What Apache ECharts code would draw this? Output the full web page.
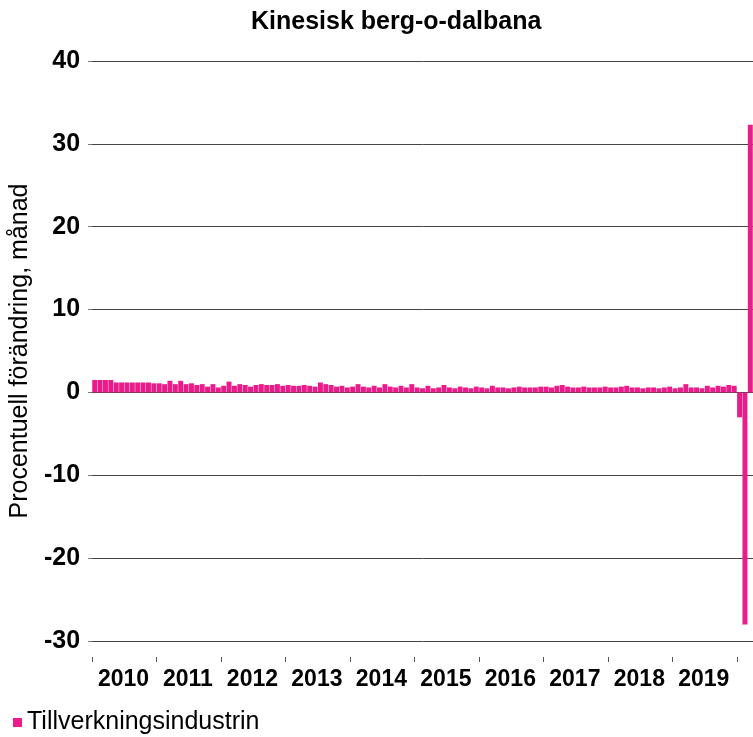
<!DOCTYPE html>
<html>
<head>
<meta charset="utf-8">
<script src="https://cdn.jsdelivr.net/npm/echarts@6/dist/echarts.min.js"></script>
<style>
  html, body { margin: 0; padding: 0; background: #fff; }
  #chart { width: 753px; height: 737px; }
</style>
</head>
<body>
<div id="chart"></div>
<script>
  // monthly percent change, jan 2010 .. mar 2020
  const years = ['2010','2011','2012','2013','2014','2015','2016','2017','2018','2019','2020'];
  const v2010 = [1.5,1.5,1.5,1.5,1.2,1.2,1.2,1.2,1.2,1.2,1.2,1.1];
  const v2011 = [1.1,1.0,1.4,1.0,1.4,1.0,1.1,0.9,1.0,0.7,1.0,0.6];
  const v2012 = [0.8,1.3,0.8,1.0,0.9,0.7,0.9,1.0,0.9,0.9,1.0,0.8];
  const v2013 = [0.9,0.8,0.8,0.9,0.8,0.7,1.2,1.0,0.9,0.7,0.8,0.6];
  const v2014 = [0.7,1.0,0.7,0.6,0.8,0.6,1.0,0.7,0.6,0.8,0.6,1.0];
  const v2015 = [0.6,0.5,0.8,0.5,0.6,0.9,0.6,0.5,0.7,0.6,0.5,0.7];
  const v2016 = [0.6,0.5,0.8,0.6,0.6,0.5,0.6,0.7,0.6,0.6,0.6,0.7];
  const v2017 = [0.7,0.6,0.8,0.9,0.7,0.6,0.6,0.7,0.6,0.6,0.6,0.7];
  const v2018 = [0.6,0.6,0.7,0.8,0.6,0.6,0.5,0.6,0.6,0.5,0.6,0.7];
  const v2019 = [0.5,0.6,1.0,0.6,0.6,0.5,0.8,0.6,0.8,0.7,0.9,0.8];
  const v2020 = [-3.0,-28.0,32.3];
  const yTicks = [-30,-20,-10,0,10,20,30,40];

  const values = [].concat(v2010,v2011,v2012,v2013,v2014,v2015,v2016,v2017,v2018,v2019,v2020);
  let months = [];
  years.forEach(y => {
    for (let m = 1; m <= 12; m++) months.push(y + '-' + (m < 10 ? '0' + m : m));
  });
  months = months.slice(0, values.length);

  const font = 'Arial, "Liberation Sans", Helvetica, sans-serif';
  let chart = echarts.init(document.getElementById('chart'));
  chart.setOption({
    animation: false,
    textStyle: {fontFamily: font},
    title: {
      text: 'Kinesisk berg-o-dalbana',
      left: 246,
      top: 5,
      textStyle: {fontSize: 25, fontWeight: 'bold', color: '#000', fontFamily: font}
    },
    legend: {
      left: 8,
      top: 705,
      icon: 'rect',
      itemWidth: 9,
      itemHeight: 9,
      itemGap: 5,
      textStyle: {fontSize: 25, color: '#000', fontFamily: font},
      data: ['Tillverkningsindustrin']
    },
    grid: {left: 90, right: -2, top: 61, bottom: 96},
    xAxis: {
      type: 'category',
      data: months,
      offset: 16,
      axisLine: {show: false, onZero: false},
      axisTick: {
        show: true,
        length: 5,
        interval: (i) => i % 12 === 0,
        lineStyle: {color: '#555'}
      },
      axisLabel: {
        interval: (i) => i % 12 === 6,
        formatter: (v) => v.slice(0, 4),
        margin: 11,
        padding: [0, 7, 0, 0],
        fontSize: 23,
        fontWeight: 'bold',
        color: '#000',
        fontFamily: font
      },
      splitLine: {show: false}
    },
    yAxis: {
      type: 'value',
      min: yTicks[0],
      max: yTicks[yTicks.length - 1],
      interval: 10,
      name: 'Procentuell förändring, månad',
      nameLocation: 'middle',
      nameGap: 45,
      nameTextStyle: {fontSize: 25, color: '#000', fontFamily: font},
      axisLine: {show: false},
      axisTick: {show: true, length: 4, lineStyle: {color: '#777'}},
      axisLabel: {margin: 12, fontSize: 25, fontWeight: 'bold', color: '#000', fontFamily: font},
      splitLine: {lineStyle: {color: '#444', width: 1}}
    },
    series: [{
      name: 'Tillverkningsindustrin',
      type: 'bar',
      data: values,
      barCategoryGap: '8%',
      itemStyle: {color: '#ea1b8a'}
    }]
  });
</script>
</body>
</html>
